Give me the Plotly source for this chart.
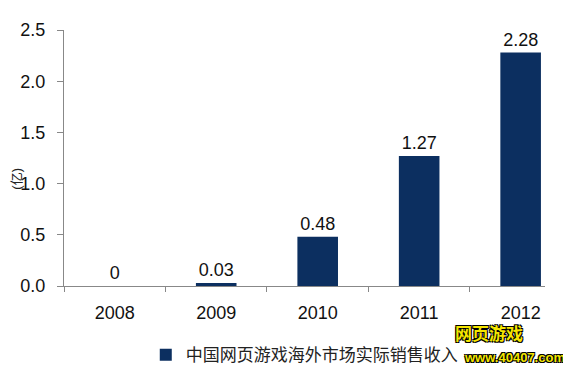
import plotly.graph_objects as go

years = ["2008", "2009", "2010", "2011", "2012"]
values = [0, 0.03, 0.48, 1.27, 2.28]
labels = ["0", "0.03", "0.48", "1.27", "2.28"]
series_name = "中国网页游戏海外市场实际销售收入"
y_ticks = [0, 0.5, 1.0, 1.5, 2.0, 2.5]

font_family = "Liberation Sans, Arial, Noto Sans CJK SC, sans-serif"

fig = go.Figure()
fig.add_trace(go.Bar(
    x=years, y=values, name=series_name,
    marker=dict(color="#0c2f60", line=dict(width=0)),
    width=0.4,
    text=labels, textposition="outside", cliponaxis=False,
    textfont=dict(size=18, color="#111111", family=font_family),
))

# page body has an 8px default margin, so the figure is slightly smaller
fig.update_layout(
    width=563, height=377,
    margin=dict(l=56, r=26, t=16, b=97),
    plot_bgcolor="white", paper_bgcolor="white",
    font=dict(family=font_family, color="#222222"),
    showlegend=True,
    legend=dict(orientation="h", x=0.17, y=-0.2, xanchor="left", yanchor="top",
                font=dict(size=17, color="#222222"), itemwidth=30),
)
fig.update_xaxes(
    type="category", range=[-0.5, 4.24],
    tickson="boundaries", ticks="outside", ticklen=5, tickcolor="#888888",
    showline=True, linecolor="#888888", linewidth=1,
    tickfont=dict(size=18, color="#111111"),
    ticklabelstandoff=10,
    showgrid=False,
)
fig.update_yaxes(
    range=[0, 2.5], tickvals=y_ticks, tickformat=".1f",
    ticks="outside", ticklen=6, tickcolor="#888888",
    showline=True, linecolor="#888888", linewidth=1,
    tickfont=dict(size=18, color="#111111"),
    ticklabelstandoff=8,
    showgrid=False, zeroline=False,
)
fig.add_annotation(
    text="(亿)", textangle=-90, xref="paper", yref="paper",
    x=-0.117, y=0.42, xanchor="left", showarrow=False, borderpad=0,
    font=dict(size=13, color="#222222"),
)
shadow = "1px 1px 0 #000, -1px -1px 0 #000, 1px -1px 0 #000, -1px 1px 0 #000"
fig.add_annotation(
    text="<b>网页游戏</b>", xref="paper", yref="paper", x=0.958, y=-0.235,
    showarrow=False,
    font=dict(size=17, color="#f5e600", shadow=shadow),
)
fig.add_annotation(
    text="<b>www.40407.com</b>", xref="paper", yref="paper", x=1.045, y=-0.315,
    xanchor="right", showarrow=False,
    font=dict(size=13, color="#f5e600", shadow=shadow),
)

fig.write_html("out.html")
